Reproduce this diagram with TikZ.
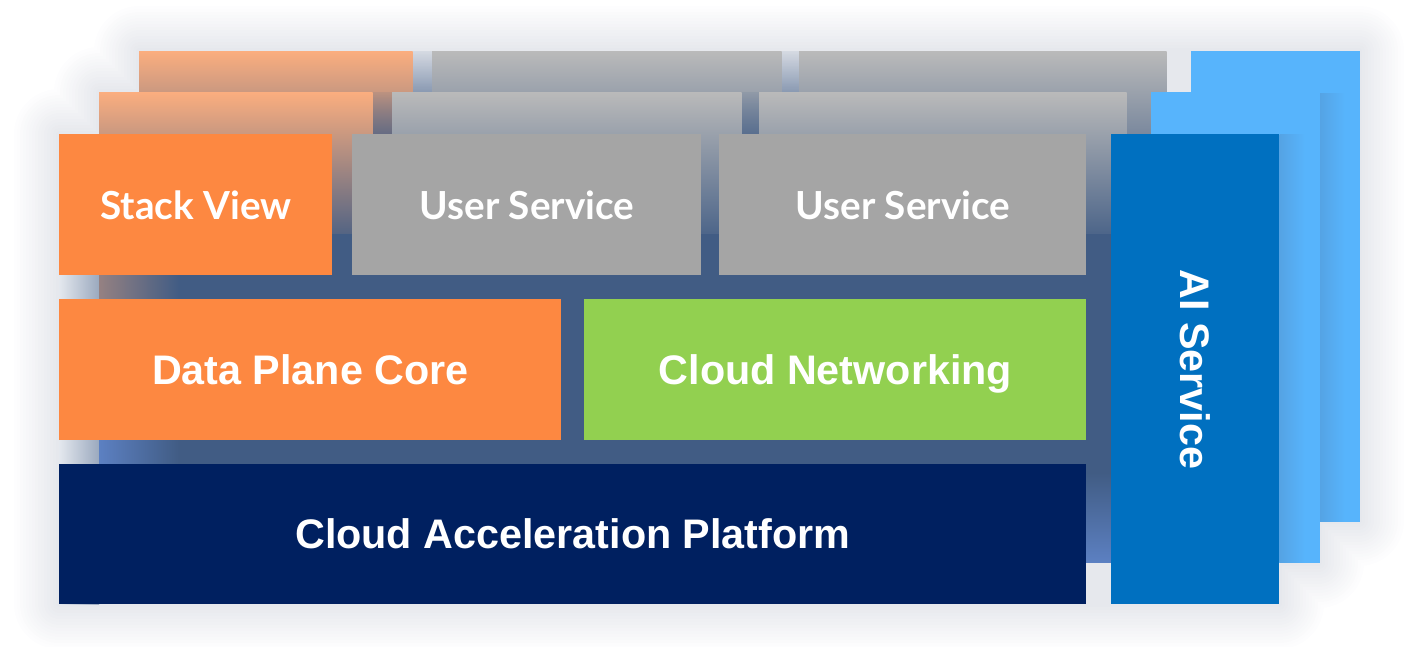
\documentclass[tikz,border=0pt]{standalone}
\usepackage{fontspec}
\setmainfont{Liberation Sans}
\newfontfamily\latofont{Lato}
\usetikzlibrary{backgrounds,fadings}

\definecolor{stackorange}{HTML}{FD8841}
\definecolor{usergray}{HTML}{A5A5A5}
\definecolor{netgreen}{HTML}{92D050}
\definecolor{platnavy}{HTML}{002060}
\definecolor{aiblue}{HTML}{0070C0}
\definecolor{aiback}{HTML}{57B4FC}
\definecolor{aishade}{HTML}{55A3E4}
\definecolor{backorange}{HTML}{FBAE7F}
\definecolor{backgray}{HTML}{BABABA}
\definecolor{panelblue}{HTML}{415C84}
\definecolor{panelglow}{HTML}{5C80C2}
\definecolor{haze}{HTML}{E4E8EE}
\definecolor{shadowcol}{HTML}{2E3E66}

\tikzfading[name=rowfade, top color=transparent!90, bottom color=transparent!0, middle color=transparent!10]

\begin{document}
\begin{tikzpicture}[x=0.02cm, y=0.02cm,
    box/.style 2 args={rectangle, anchor=north west, inner sep=0pt, minimum width=#1*0.02cm, minimum height=#2*0.02cm, text=white, text height=16.6pt, text depth=0pt},
    toplabel/.style={font=\latofont\bfseries\fontsize{22}{22}\selectfont},
    boxlabel/.style={font=\bfseries\fontsize{23.5}{23.5}\selectfont}]

    \useasboundingbox (0,0) rectangle (1417,-646);

    % front layer
    \node[box={273}{141}, toplabel, fill=stackorange](sv) at (59,-134) {Stack View};
    \node[box={349}{141}, toplabel, fill=usergray](us1) at (352,-134) {User Service};
    \node[box={367}{141}, toplabel, fill=usergray](us2) at (719,-134) {User Service};
    \node[box={502}{141}, boxlabel, fill=stackorange](dpc) at (59,-299) {Data Plane Core};
    \node[box={502}{141}, boxlabel, fill=netgreen](cn) at (584,-299) {Cloud Networking};
    \node[box={1027}{140}, boxlabel, fill=platnavy](cap) at (59,-464) {Cloud Acceleration Platform};
    \node[box={168}{470}, fill=aiblue](ai) at (1111,-134) {};
    \node[boxlabel, text=white, rotate=-90, text height=16.6pt, text depth=0pt](ailabel) at (ai.center) {AI Service};

    \begin{pgfonlayer}{background}
    % soft shadow round the whole stack
    \foreach \r in {45,42,...,3} {
        \begin{scope}[transparency group, opacity=0.008]
        \filldraw[shadowcol, line width=\r*0.04cm, line join=round]
            (59,-134) -- (99,-134) -- (99,-92) -- (139,-92) -- (139,-51) -- (1359,-51) -- (1359,-521)
            -- (1319,-521) -- (1319,-563) -- (1279,-563) -- (1279,-604) -- (59,-604) -- cycle;
        \end{scope}
    }
    % shade at the left of the middle layer
    \shade[left color=haze, right color=panelblue!45!haze] (59,-134) rectangle (99,-604);

    % the two layers behind, back one first
    \foreach \dx/\dy in {80/83, 40/42} {
        \fill[panelblue, path fading=rowfade]
            ([shift={(\dx,\dy)}]sv.north west) rectangle ([shift={(\dx,\dy)}]us2.south east);
        \fill[panelblue] ([shift={(\dx,\dy)}]sv.south west) rectangle ([shift={(\dx,\dy)}]cap.south east);
        \shade[left color=backorange!45!panelblue, right color=panelblue]
            ([shift={(\dx,\dy)}]sv.south west) rectangle ([shift={(\dx+80,\dy)}]dpc.south west);
        \shade[left color=panelglow, right color=panelblue]
            ([shift={(\dx,\dy)}]dpc.south west) rectangle ([shift={(\dx+80,\dy)}]cap.south west);
        \shade[top color=panelblue, bottom color=panelglow]
            ([shift={(\dx,\dy+90)}]cap.south west) rectangle ([shift={(\dx,\dy)}]cap.south east);
        \foreach \n/\col in {sv/backorange, us1/backgray, us2/backgray}
            \shade[top color=\col, bottom color=panelblue!90!\col, middle color=\col!55!panelblue]
                ([shift={(\dx,\dy)}]\n.north west) rectangle ([shift={(\dx,\dy)}]\n.south east);
        \fill[aiback] ([shift={(\dx,\dy)}]ai.north west) rectangle ([shift={(\dx,\dy)}]ai.south east);
        \shade[left color=aishade, right color=aiback]
            ([shift={(\dx-40,\dy-42)}]ai.north east) rectangle ([shift={(\dx-15,\dy)}]ai.south east);
    }
    \end{pgfonlayer}

\end{tikzpicture}
\end{document}
